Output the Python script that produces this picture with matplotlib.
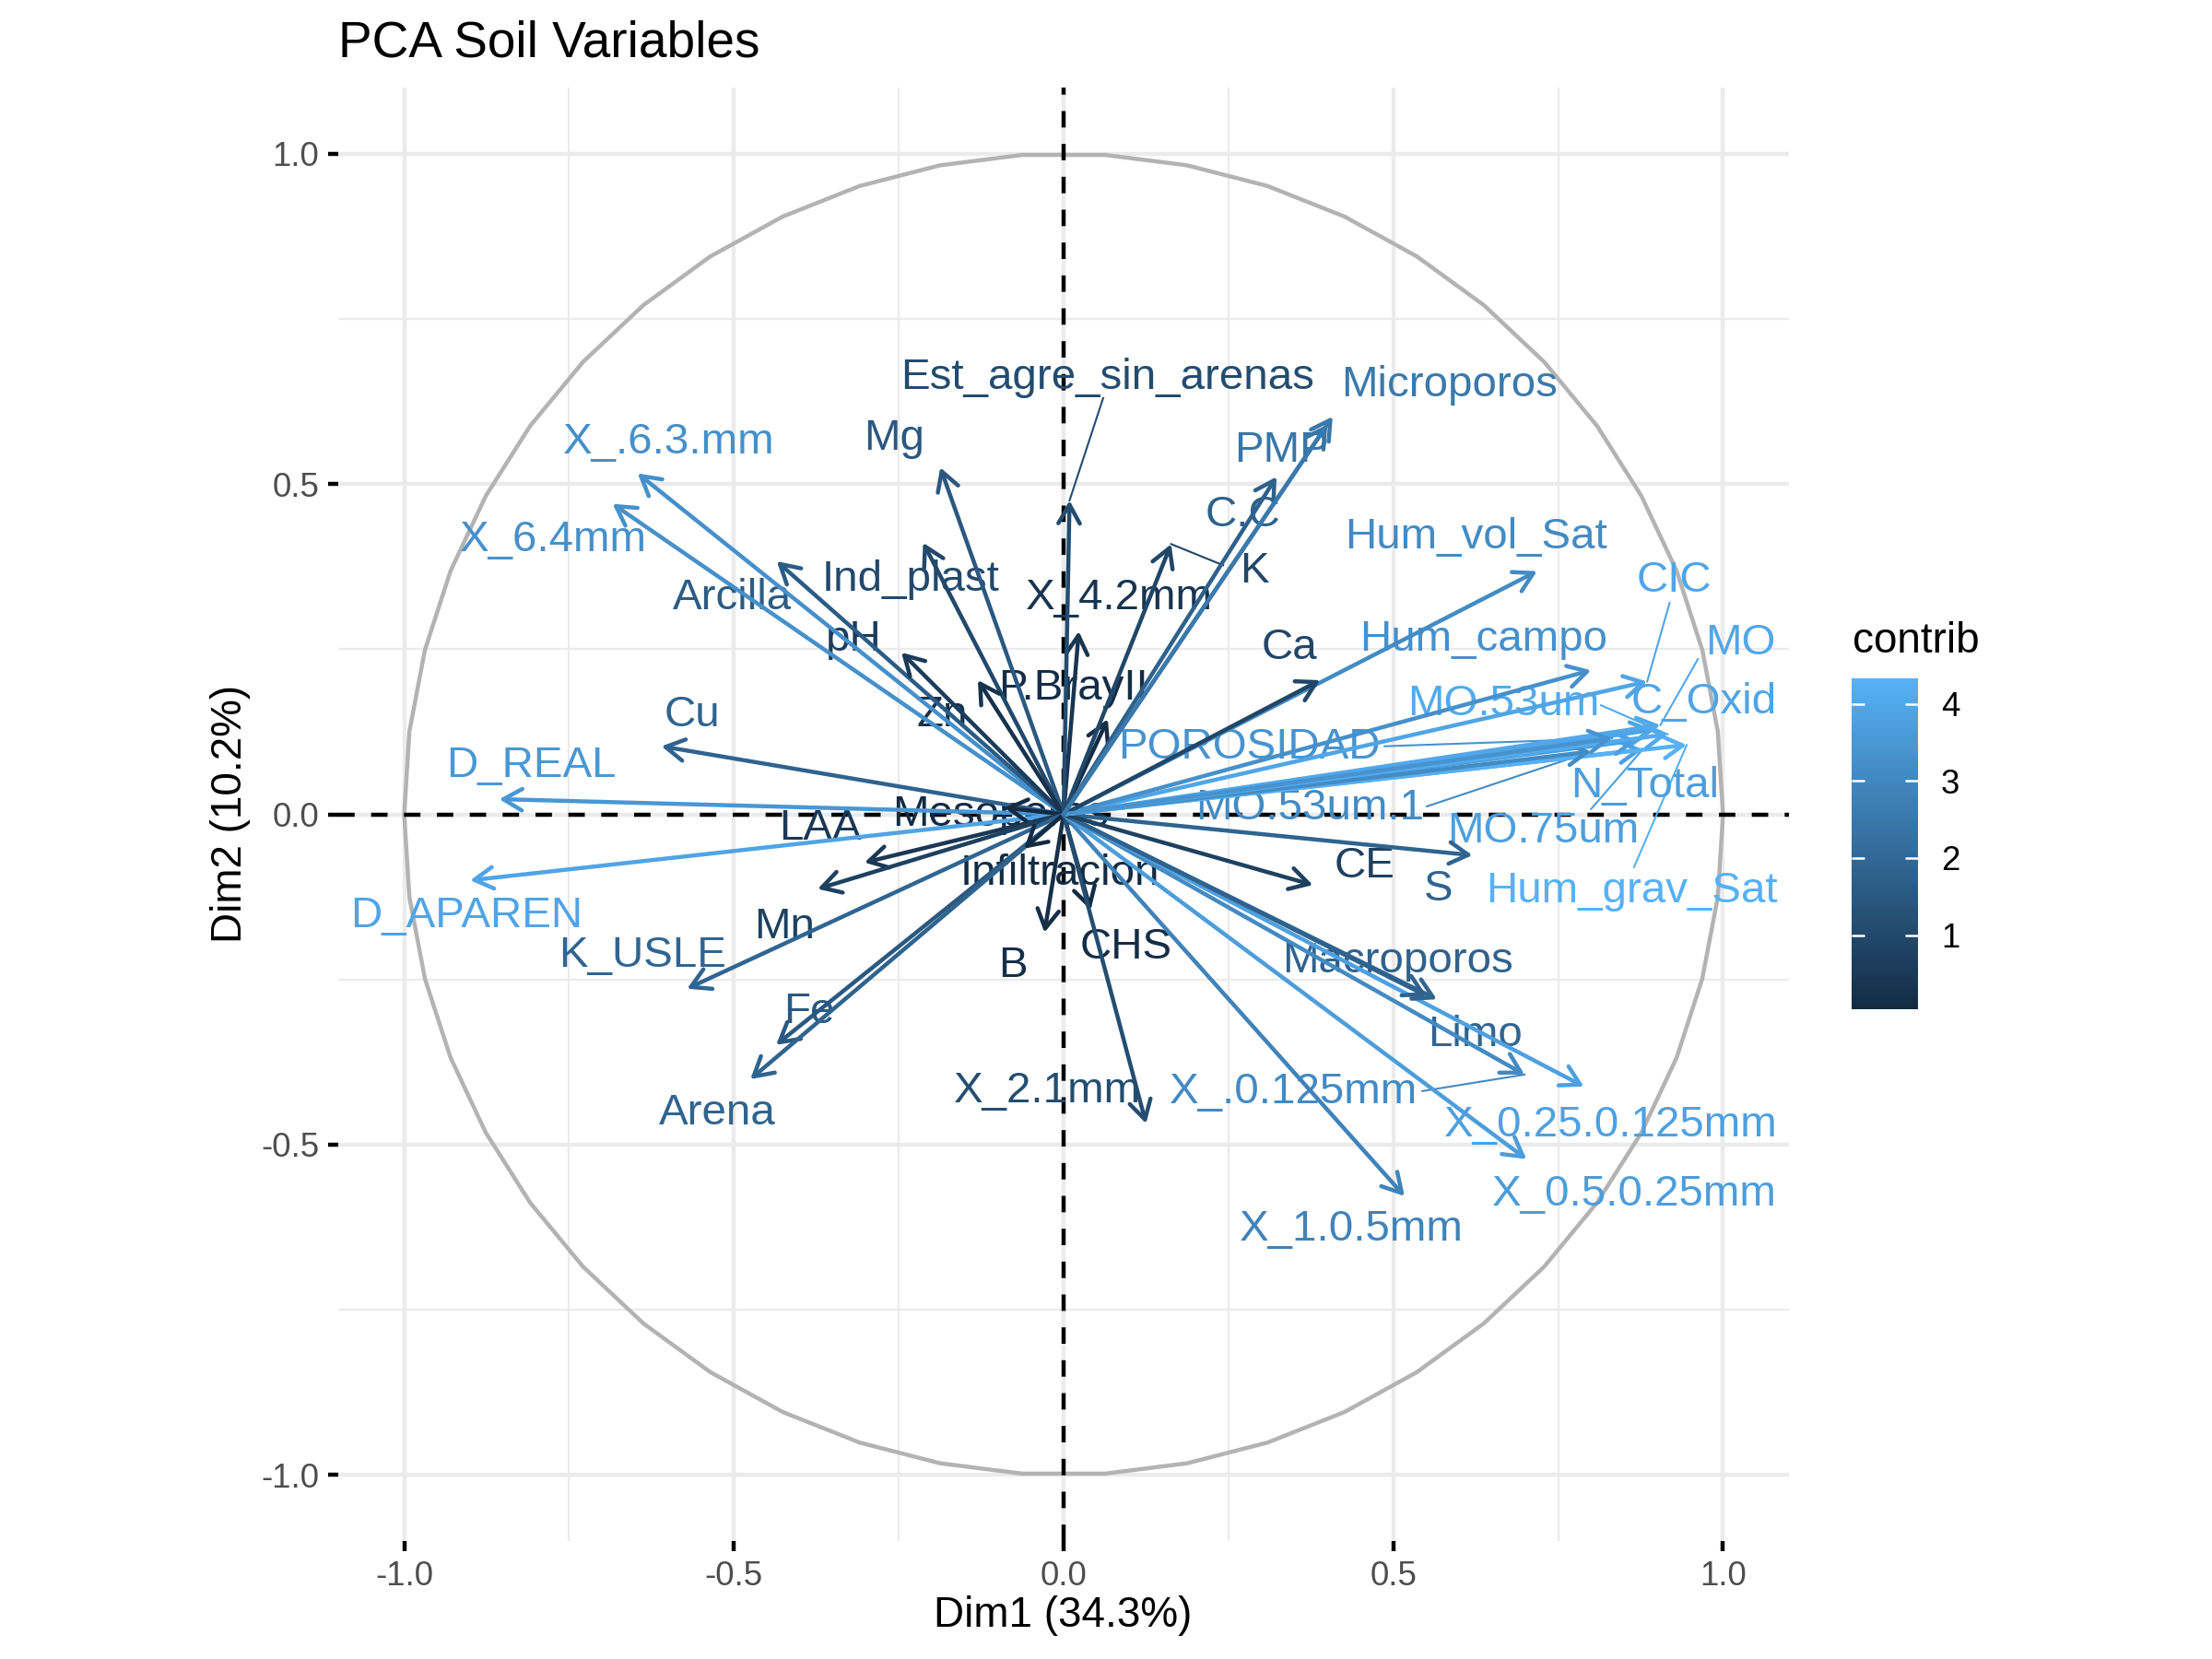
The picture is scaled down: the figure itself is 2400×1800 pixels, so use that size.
import numpy as np
import matplotlib
matplotlib.use("Agg")
import matplotlib.pyplot as plt
from matplotlib.patches import FancyArrowPatch
from matplotlib.colors import LinearSegmentedColormap, Normalize
from matplotlib.ticker import FormatStrFormatter
import matplotlib.cm as cm

plt.rcParams['font.family'] = ['Liberation Sans', 'DejaVu Sans']
plt.rcParams['axes.unicode_minus'] = False

# Variables del PCA (coordenadas)
variables = ["X_.6.3.mm", "X_6.4mm", "Arcilla", "Ind_plast", "Mg", "pH", "Zn", "P.BrayII",
             "X_4.2mm", "Est_agre_sin_arenas", "Cu", "D_REAL", "D_APAREN", "LAA", "Mesoporos",
             "Mn", "K_USLE", "Fe", "Arena", "Infiltracion", "B", "CHS", "X_2.1mm",
             "X_.0.125mm", "X_1.0.5mm", "X_0.5.0.25mm", "X_0.25.0.125mm", "Limo", "Macroporos",
             "S", "CE", "MO.75um", "Hum_grav_Sat", "N_Total", "MO.53um.1", "C_Oxid", "MO",
             "MO.53um", "CIC", "Hum_campo", "Hum_vol_Sat", "Ca", "POROSIDAD", "K", "C.C",
             "PMP", "Microporos"]
dim1 = [-0.646, -0.684, -0.435, -0.213, -0.187, -0.246, -0.130, 0.067,
        0.023, 0.009, -0.610, -0.856, -0.900, -0.302, -0.090,
        -0.373, -0.571, -0.436, -0.475, -0.060, -0.029, 0.041, 0.125,
        0.699, 0.517, 0.702, 0.789, 0.566, 0.551,
        0.620, 0.378, 0.878, 0.945, 0.870, 0.800, 0.895, 0.905,
        0.916, 0.885, 0.800, 0.718, 0.389, 0.832, 0.163, 0.323,
        0.400, 0.408]
dim2 = [0.516, 0.470, 0.383, 0.411, 0.525, 0.245, 0.203, 0.144,
        0.277, 0.475, 0.103, 0.023, -0.100, -0.073, 0.010,
        -0.113, -0.264, -0.349, -0.401, -0.052, -0.179, -0.145, -0.468,
        -0.394, -0.578, -0.522, -0.412, -0.280, -0.275,
        -0.062, -0.107, 0.098, 0.105, 0.112, 0.095, 0.128, 0.135,
        0.121, 0.201, 0.218, 0.368, 0.203, 0.115, 0.409, 0.511,
        0.590, 0.602]
contrib = [3.27, 3.29, 1.61, 1.02, 1.49, 0.58, 0.28, 0.12,
           0.37, 1.08, 1.83, 3.50, 3.92, 0.46, 0.04,
           0.73, 1.89, 1.49, 1.85, 0.05, 0.16, 0.11, 1.12,
           3.08, 2.87, 3.66, 3.79, 1.90, 1.81,
           1.86, 0.74, 3.73, 4.33, 3.68, 3.10, 3.91, 4.00,
           4.08, 3.94, 3.29, 3.11, 0.92, 3.37, 0.93, 1.75,
           2.43, 2.53]

# posiciones de las etiquetas (como las dejo ggrepel)
label_x = [-0.598, -0.774, -0.502, -0.232, -0.257, -0.319, -0.184, 0.015,
           0.084, 0.066, -0.564, -0.808, -0.905, -0.369, -0.095,
           -0.424, -0.639, -0.386, -0.525, -0.006, -0.077, 0.094, -0.024,
           0.349, 0.437, 0.866, 0.830, 0.624, 0.506,
           0.568, 0.457, 0.727, 0.862, 0.881, 0.373, 0.971, 1.027,
           0.667, 0.926, 0.637, 0.626, 0.343, 0.281, 0.289, 0.272,
           0.330, 0.585]
label_y = [0.563, 0.415, 0.327, 0.355, 0.569, 0.265, 0.150, 0.190,
           0.327, 0.661, 0.150, 0.073, -0.154, -0.021, 0.000,
           -0.171, -0.214, -0.299, -0.453, -0.090, -0.229, -0.201, -0.419,
           -0.421, -0.629, -0.575, -0.471, -0.334, -0.222,
           -0.113, -0.079, -0.026, -0.116, 0.043, 0.009, 0.169, 0.259,
           0.167, 0.353, 0.265, 0.419, 0.252, 0.101, 0.368, 0.453,
           0.550, 0.650]

# lineas de union de ggrepel: variable -> punto de inicio del segmento
segments = {"Est_agre_sin_arenas": (0.060, 0.630), "K": (0.242, 0.377),
            "CIC": (0.919, 0.320), "MO": (0.962, 0.235), "MO.53um": (0.815, 0.165),
            "MO.75um": (0.800, 0.008), "MO.53um.1": (0.551, 0.012),
            "POROSIDAD": (0.487, 0.103), "Hum_grav_Sat": (0.865, -0.080),
            "X_.0.125mm": (0.544, -0.419)}

cmap = LinearSegmentedColormap.from_list("gg", ["#132B43", "#56B1F7"])
norm = Normalize(vmin=0.04, vmax=4.33)

fig = plt.figure(figsize=(8, 6), dpi=300)
ax = fig.add_axes([367 / 2400, 1 - 1672 / 1800, 1574 / 2400, 1577 / 1800])
ax.set_xlim(-1.1, 1.1)
ax.set_ylim(-1.1, 1.1)
for s in ax.spines.values():
    s.set_visible(False)

ticks = [-1.0, -0.5, 0.0, 0.5, 1.0]
ax.set_xticks(ticks)
ax.set_yticks(ticks)
ax.set_xticks([-0.75, -0.25, 0.25, 0.75], minor=True)
ax.set_yticks([-0.75, -0.25, 0.25, 0.75], minor=True)
ax.xaxis.set_major_formatter(FormatStrFormatter('%.1f'))
ax.yaxis.set_major_formatter(FormatStrFormatter('%.1f'))
ax.grid(which='major', color='#EBEBEB', lw=1.07, zorder=0)
ax.grid(which='minor', color='#EBEBEB', lw=0.53, zorder=0)
ax.set_axisbelow(True)
ax.tick_params(which='major', length=2.75, width=1.07, color='black', pad=2.2,
               labelsize=8.8, labelcolor='#4D4D4D')
ax.tick_params(which='minor', length=0)

# circulo de correlaciones
theta = np.linspace(0, 2 * np.pi, 51)
ax.plot(np.cos(theta), np.sin(theta), color='#B3B3B3', lw=1.07, zorder=1)

ax.axhline(0, color='black', lw=1.07, dashes=(4, 4), zorder=2)
ax.axvline(0, color='black', lw=1.07, dashes=(4, 4), zorder=2)

for i, name in enumerate(variables):
    col = cmap(norm(contrib[i]))
    ax.text(label_x[i], label_y[i], name, color=col, fontsize=11.4,
            ha='center', va='center', zorder=3)
    if name in segments:
        sx, sy = segments[name]
        ax.plot([sx, dim1[i]], [sy, dim2[i]], color=col, lw=0.5, zorder=3)
    arr = FancyArrowPatch((0, 0), (dim1[i], dim2[i]),
                          arrowstyle='->,head_length=4.9,head_width=2.8',
                          mutation_scale=1, lw=1.07, color=col,
                          shrinkA=0, shrinkB=0, zorder=4)
    ax.add_patch(arr)

fig.text(367 / 2400, 1 - 62 / 1800, "PCA Soil Variables", fontsize=13.2,
         ha='left', va='baseline')
fig.text(1153 / 2400, 1 - 1753 / 1800, "Dim1 (34.3%)", fontsize=11,
         ha='center', va='center')
fig.text(250 / 2400, 1 - 883 / 1800, "Dim2 (10.2%)", fontsize=11,
         ha='center', va='center', rotation=90)

# barra de colores
cax = fig.add_axes([2009 / 2400, 1 - 1095 / 1800, 72 / 2400, 359 / 1800])
sm = cm.ScalarMappable(norm=norm, cmap=cmap)
cb = fig.colorbar(sm, cax=cax, ticks=[1, 2, 3, 4])
cb.outline.set_visible(False)
cax.tick_params(length=0, labelsize=8.8, pad=6)
for v in [1, 2, 3, 4]:
    cax.hlines(v, 0, 0.2, colors='white', lw=0.6, transform=cax.get_yaxis_transform())
    cax.hlines(v, 0.8, 1, colors='white', lw=0.6, transform=cax.get_yaxis_transform())
fig.text(2010 / 2400, 1 - 708 / 1800, "contrib", fontsize=11, ha='left', va='baseline')

plt.savefig("out.png", dpi=300)
